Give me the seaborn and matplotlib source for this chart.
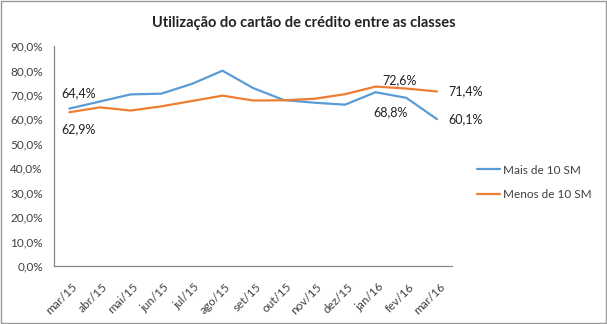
import matplotlib
matplotlib.use("Agg")
import matplotlib.pyplot as plt
from matplotlib.patches import Rectangle
from matplotlib.ticker import FuncFormatter
from matplotlib.transforms import ScaledTranslation
import seaborn as sns
import pandas as pd

months = ["mar/15", "abr/15", "mai/15", "jun/15", "jul/15", "ago/15", "set/15",
          "out/15", "nov/15", "dez/15", "jan/16", "fev/16", "mar/16"]
mais_10sm = [64.4, 67.3, 70.2, 70.5, 74.5, 79.9, 72.8, 67.9, 66.8, 66.0, 71.1, 68.8, 60.1]
menos_10sm = [62.9, 64.9, 63.6, 65.3, 67.5, 69.7, 67.7, 67.8, 68.4, 70.3, 73.4, 72.6, 71.4]
series_names = ["Mais de 10 SM", "Menos de 10 SM"]
title = "Utilização do cartão de crédito entre as classes"

df = pd.DataFrame({
    "mes": months * 2,
    "valor": mais_10sm + menos_10sm,
    "serie": [series_names[0]] * len(months) + [series_names[1]] * len(months),
})
df["pos"] = list(range(len(months))) * 2

sns.set_style("white")
plt.rcParams["font.family"] = ["Lato", "DejaVu Sans"]

fig = plt.figure(figsize=(6.07, 3.24), dpi=100)
ax = fig.add_axes([0.089, 0.179, 0.656, 0.679])

palette = {series_names[0]: "#5B9BD5", series_names[1]: "#ED7D31"}
sns.lineplot(data=df, x="pos", y="valor", hue="serie", palette=palette,
             linewidth=1.6, ax=ax)

ax.set_xlim(-0.5, len(months) - 0.5)
ax.set_ylim(0, 90)
ax.set_yticks(range(0, 91, 10))
ax.yaxis.set_major_formatter(FuncFormatter(lambda v, _: f"{v:.1f}%".replace(".", ",")))
ax.set_xticks(range(len(months)))
ax.set_xticklabels(months, rotation=45, ha="right", rotation_mode="anchor")
ax.tick_params(axis="both", labelsize=8.5, colors="#404040", length=0)
ax.tick_params(axis="y", pad=8)
ax.tick_params(axis="x", pad=11)
shift = ScaledTranslation(1.5 / 72, 0, fig.dpi_scale_trans)
for lbl in ax.get_xticklabels():
    lbl.set_transform(lbl.get_transform() + shift)
ax.set_xlabel("")
ax.set_ylabel("")
for side in ["top", "right"]:
    ax.spines[side].set_visible(False)
for side in ["left", "bottom"]:
    ax.spines[side].set_color("#888888")
    ax.spines[side].set_linewidth(0.9)

def pct(v):
    return f"{v:.1f}%".replace(".", ",")

lab_kw = dict(fontsize=9, color="#222222")
ax.annotate(pct(mais_10sm[0]), (0, mais_10sm[0]), xytext=(-6, 11),
            textcoords="offset points", ha="left", va="center", **lab_kw)
ax.annotate(pct(menos_10sm[0]), (0, menos_10sm[0]), xytext=(-6, -12),
            textcoords="offset points", ha="left", va="center", **lab_kw)
ax.annotate(pct(menos_10sm[11]), (11, menos_10sm[11]), xytext=(-5, 6),
            textcoords="offset points", ha="center", va="center", **lab_kw)
ax.annotate(pct(mais_10sm[11]), (11, mais_10sm[11]), xytext=(-11, -10),
            textcoords="offset points", ha="center", va="center", **lab_kw)
ax.annotate(pct(menos_10sm[12]), (12, menos_10sm[12]), xytext=(8, 0),
            textcoords="offset points", ha="left", va="center", **lab_kw)
ax.annotate(pct(mais_10sm[12]), (12, mais_10sm[12]), xytext=(8, 0),
            textcoords="offset points", ha="left", va="center", **lab_kw)

leg = ax.legend(loc="center left", bbox_to_anchor=(1.035, 0.38), frameon=False,
                fontsize=8.5, handlelength=2.0, handletextpad=0.2, labelspacing=1.15)
for t in leg.get_texts():
    t.set_color("#404040")

fig.suptitle(title, x=0.5, y=0.95, fontsize=10.5, fontweight="bold", color="#222222")

fig.patches.append(Rectangle((0.001, 0.002), 0.997, 0.995, transform=fig.transFigure,
                             fill=False, edgecolor="#999999", linewidth=1.0))

fig.savefig("out.png", dpi=100)
